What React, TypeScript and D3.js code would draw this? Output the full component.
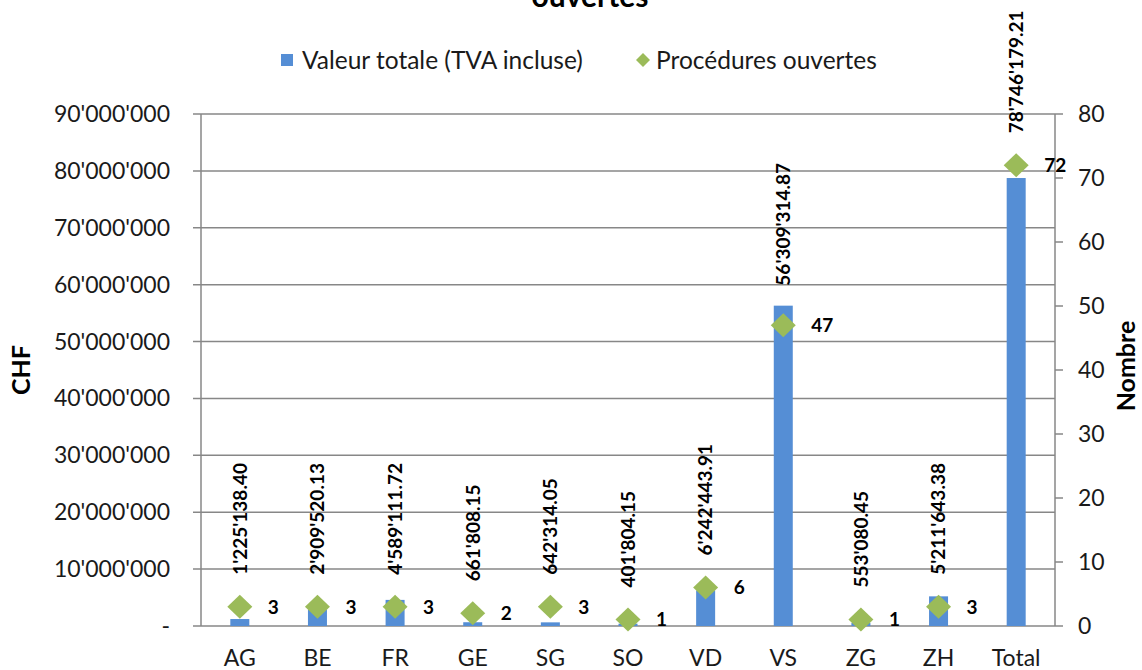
import { useEffect, useRef } from "react";
import * as d3 from "d3";

const W = 1142;
const H = 670;

const CATEGORIES = ["AG", "BE", "FR", "GE", "SG", "SO", "VD", "VS", "ZG", "ZH", "Total"];
const VALEUR = [
  1225138.4, 2909520.13, 4589111.72, 661808.15, 642314.05, 401804.15,
  6242443.91, 56309314.87, 553080.45, 5211643.38, 78746179.21,
];
const PROCEDURES = [3, 3, 3, 2, 3, 1, 6, 47, 1, 3, 72];
const LEFT_TICKS = [0, 10e6, 20e6, 30e6, 40e6, 50e6, 60e6, 70e6, 80e6, 90e6];
const RIGHT_TICKS = [0, 10, 20, 30, 40, 50, 60, 70, 80];

const BAR_COLOR = "#558ED5";
const DIAMOND_COLOR = "#9BBB59";
const GRID_COLOR = "#878787";
const FONT = "Lato, 'Open Sans', sans-serif";

const apos = (s: string) => s.replace(/,/g, "'");

export default function App() {
  const svgRef = useRef<SVGSVGElement>(null);

  useEffect(() => {
    document.body.style.margin = "0";
    if (!svgRef.current) return;
    const svg = d3.select(svgRef.current);
    svg.selectAll("*").remove();

    const left = 201, right = 1055, top = 114, bottom = 626;

    const x = d3.scaleBand<string>().domain(CATEGORIES).range([left, right]).padding(0);
    const yL = d3.scaleLinear().domain([0, 90e6]).range([bottom, top]);
    const yR = d3.scaleLinear().domain([0, 80]).range([bottom, top]);
    const cx = (c: string) => (x(c) ?? 0) + x.bandwidth() / 2;

    // gridlines (left axis)
    svg.append("g").selectAll("line").data(LEFT_TICKS).join("line")
      .attr("x1", left - 8).attr("x2", right)
      .attr("y1", d => yL(d)).attr("y2", d => yL(d))
      .attr("stroke", GRID_COLOR).attr("stroke-width", 1.5);

    // axis lines
    svg.append("line").attr("x1", left).attr("x2", left).attr("y1", top).attr("y2", bottom)
      .attr("stroke", GRID_COLOR).attr("stroke-width", 1.5);
    svg.append("line").attr("x1", right).attr("x2", right).attr("y1", top).attr("y2", bottom)
      .attr("stroke", GRID_COLOR).attr("stroke-width", 1.5);
    svg.append("g").selectAll("line").data(RIGHT_TICKS).join("line")
      .attr("x1", right).attr("x2", right + 8)
      .attr("y1", d => yR(d)).attr("y2", d => yR(d))
      .attr("stroke", GRID_COLOR).attr("stroke-width", 1.5);

    // left tick labels
    svg.append("g").selectAll("text").data(LEFT_TICKS).join("text")
      .attr("x", 170).attr("y", d => yL(d))
      .attr("dy", "0.35em").attr("text-anchor", "end")
      .attr("font-family", FONT).attr("font-size", 23).attr("fill", "#1a1a1a")
      .text(d => (d === 0 ? "-" : apos(d3.format(",")(d))));

    // right tick labels
    svg.append("g").selectAll("text").data(RIGHT_TICKS).join("text")
      .attr("x", 1078).attr("y", d => yR(d))
      .attr("dy", "0.35em").attr("text-anchor", "start")
      .attr("font-family", FONT).attr("font-size", 23).attr("fill", "#1a1a1a")
      .text(d => String(d));

    // category labels
    svg.append("g").selectAll("text").data(CATEGORIES).join("text")
      .attr("x", d => cx(d)).attr("y", 666)
      .attr("text-anchor", "middle")
      .attr("font-family", FONT).attr("font-size", 23).attr("fill", "#1a1a1a")
      .text(d => d);

    // bars
    const barW = 19;
    svg.append("g").selectAll("rect").data(CATEGORIES).join("rect")
      .attr("x", d => cx(d) - barW / 2)
      .attr("y", (_, i) => yL(VALEUR[i]))
      .attr("width", barW)
      .attr("height", (_, i) => bottom - yL(VALEUR[i]))
      .attr("fill", BAR_COLOR);

    // diamonds
    const dw = 12.5, dh = 12;
    svg.append("g").selectAll("path").data(CATEGORIES).join("path")
      .attr("d", (d, i) => {
        const px = cx(d), py = yR(PROCEDURES[i]);
        return `M${px},${py - dh}L${px + dw},${py}L${px},${py + dh}L${px - dw},${py}Z`;
      })
      .attr("fill", DIAMOND_COLOR);

    // count labels
    svg.append("g").selectAll("text").data(CATEGORIES).join("text")
      .attr("x", d => cx(d) + 28).attr("y", (_, i) => yR(PROCEDURES[i]))
      .attr("dy", "0.36em")
      .attr("font-family", FONT).attr("font-size", 19).attr("font-weight", "bold").attr("fill", "#000")
      .text((_, i) => String(PROCEDURES[i]));

    // value labels (rotated)
    const labelSize = 19;
    const vl = svg.append("g");
    CATEGORIES.forEach((c, i) => {
      const txt = apos(d3.format(",.2f")(VALEUR[i]));
      const t = vl.append("text")
        .attr("font-family", FONT).attr("font-size", labelSize).attr("font-weight", "bold")
        .attr("fill", "#000").attr("text-anchor", "start")
        .text(txt);
      const len = (t.node() as SVGTextElement).getComputedTextLength();
      let base = Math.min(yL(VALEUR[i]), yR(PROCEDURES[i]) - dh) - 20;
      if (base - len < 6) base = 6 + len;
      const px = cx(c) + labelSize * 0.36;
      t.attr("transform", `translate(${px},${base}) rotate(-90)`);
    });

    // axis titles
    svg.append("text")
      .attr("transform", `translate(30,370) rotate(-90)`)
      .attr("text-anchor", "middle")
      .attr("font-family", FONT).attr("font-size", 25).attr("font-weight", "bold").attr("fill", "#000")
      .text("CHF");
    svg.append("text")
      .attr("transform", `translate(1135,366) rotate(-90)`)
      .attr("text-anchor", "middle")
      .attr("font-family", FONT).attr("font-size", 25).attr("font-weight", "bold").attr("fill", "#000")
      .text("Nombre");

    // title (partly cut off at top, as in the source)
    svg.append("text")
      .attr("x", 590).attr("y", 7)
      .attr("text-anchor", "middle")
      .attr("font-family", FONT).attr("font-size", 30).attr("font-weight", "bold").attr("fill", "#000")
      .text("ouvertes");

    // legend
    const lg = svg.append("g");
    lg.append("rect").attr("x", 281).attr("y", 54).attr("width", 12).attr("height", 12).attr("fill", BAR_COLOR);
    lg.append("text").attr("x", 302).attr("y", 60).attr("dy", "0.35em")
      .attr("font-family", FONT).attr("font-size", 24.5).attr("fill", "#1a1a1a")
      .text("Valeur totale (TVA incluse)");
    lg.append("path")
      .attr("d", `M643,53L650,60L643,67L636,60Z`)
      .attr("fill", DIAMOND_COLOR);
    lg.append("text").attr("x", 656).attr("y", 60).attr("dy", "0.35em")
      .attr("font-family", FONT).attr("font-size", 24.5).attr("fill", "#1a1a1a")
      .text("Procédures ouvertes");
  }, []);

  return <svg ref={svgRef} width={W} height={H} style={{ display: "block", background: "#fff" }} />;
}
